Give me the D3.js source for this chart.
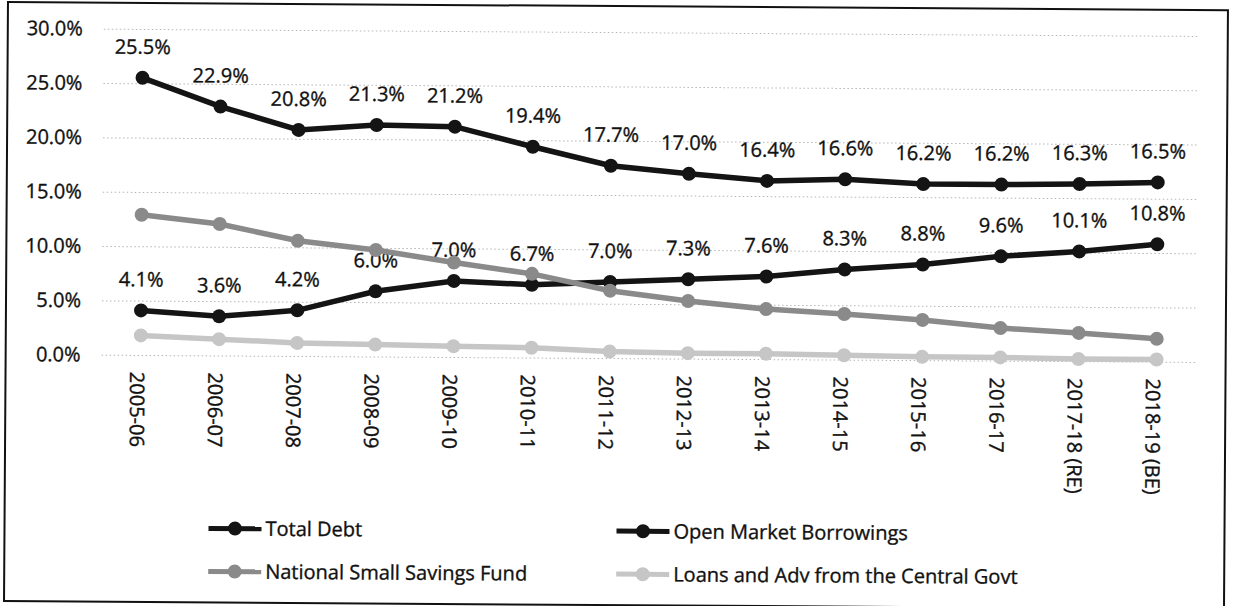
<!DOCTYPE html>
<html lang="en">
<head>
    <meta charset="UTF-8">
    <title>Debt composition</title>
    <script src="https://d3js.org/d3.v7.min.js"></script>
    <style>
        body { margin: 0; background: #fff; }
        text { font-family: "Open Sans", "Noto Sans", sans-serif; font-size: 20px; fill: #111; stroke: #111; stroke-width: 0.35px; }
        .grid line { stroke: #b5b5b5; stroke-width: 1; stroke-dasharray: 1.5,2.5; }
        .line { fill: none; stroke-width: 5.5; }
    </style>
</head>
<body>
    <svg id="chart" width="1239" height="606"></svg>

    <script>
        // data
        const categories = ["2005-06", "2006-07", "2007-08", "2008-09", "2009-10", "2010-11", "2011-12",
            "2012-13", "2013-14", "2014-15", "2015-16", "2016-17", "2017-18 (RE)", "2018-19 (BE)"];
        const totalDebt = [25.5, 22.9, 20.8, 21.3, 21.2, 19.4, 17.7, 17.0, 16.4, 16.6, 16.2, 16.2, 16.3, 16.5];
        const openMarket = [4.1, 3.6, 4.2, 6.0, 7.0, 6.7, 7.0, 7.3, 7.6, 8.3, 8.8, 9.6, 10.1, 10.8];
        const smallSavings = [12.9, 12.1, 10.6, 9.8, 8.7, 7.7, 6.2, 5.3, 4.6, 4.2, 3.7, 3.0, 2.6, 2.1];
        const loansAdv = [1.8, 1.5, 1.2, 1.1, 1.0, 0.9, 0.6, 0.5, 0.5, 0.4, 0.3, 0.3, 0.2, 0.2];
        const yTicks = [0, 5, 10, 15, 20, 25, 30];

        const seriesNames = ["Total Debt", "Open Market Borrowings", "National Small Savings Fund", "Loans and Adv from the Central Govt"];
        const seriesValues = [totalDebt, openMarket, smallSavings, loansAdv];
        const seriesColors = ["#141414", "#141414", "#8a8a8a", "#c6c6c6"];
        const labelled = [true, true, false, false];

        const svg = d3.select("#chart");
        // the scan is tilted a little clockwise
        const root = svg.append("g").attr("transform", "rotate(0.38)");

        root.append("rect")
            .attr("x", 8).attr("y", 2)
            .attr("width", 1220).attr("height", 599)
            .attr("fill", "none").attr("stroke", "#111").attr("stroke-width", 2);

        const left = 104, right = 1198;
        const x = d3.scalePoint().domain(categories).range([left, right]).padding(0.5);
        const y = d3.scaleLinear().domain([0, 30]).range([354, 28]);

        // gridlines
        root.append("g")
            .attr("class", "grid")
            .attr("transform", `translate(${left},0)`)
            .call(d3.axisLeft(y).tickValues(yTicks).tickSize(-(right - left)).tickFormat(""))
            .call(g => g.select(".domain").remove());

        // y axis labels
        root.append("g")
            .attr("transform", `translate(${left},0)`)
            .call(d3.axisLeft(y).tickValues(yTicks).tickSize(0).tickPadding(21).tickFormat(d => d.toFixed(1) + "%"))
            .call(g => g.select(".domain").remove())
            .call(g => g.selectAll("text").attr("font-size", 20).attr("font-family", null).attr("fill", "#111"));

        // x axis labels, rotated
        root.append("g")
            .attr("transform", `translate(0,${y(0)})`)
            .call(d3.axisBottom(x).tickSize(0))
            .call(g => g.select(".domain").remove())
            .call(g => g.selectAll("text")
                .attr("font-size", 20).attr("font-family", null).attr("fill", "#111")
                .attr("transform", "rotate(90)")
                .attr("text-anchor", "start")
                .attr("x", 17).attr("y", 4).attr("dy", "0.35em"));

        // data labels (drawn under the lines)
        seriesValues.forEach((vals, i) => {
            if (!labelled[i]) return;
            root.append("g").selectAll("text")
                .data(vals)
                .enter().append("text")
                .attr("x", (d, j) => x(categories[j]))
                .attr("y", d => y(d) - 24)
                .attr("text-anchor", "middle")
                .text(d => d.toFixed(1) + "%");
        });

        const line = d3.line()
            .x((d, j) => x(categories[j]))
            .y(d => y(d));

        seriesValues.forEach((vals, i) => {
            root.append("path")
                .datum(vals)
                .attr("class", "line")
                .attr("stroke", seriesColors[i])
                .attr("d", line);
            root.append("g").selectAll("circle")
                .data(vals)
                .enter().append("circle")
                .attr("cx", (d, j) => x(categories[j]))
                .attr("cy", d => y(d))
                .attr("r", 7)
                .attr("fill", seriesColors[i]);
        });

        // legend
        const legendPos = [[212, 527], [620, 527], [212, 570], [620, 570]];
        seriesNames.forEach((name, i) => {
            const g = root.append("g").attr("transform", `translate(${legendPos[i][0]},${legendPos[i][1]})`);
            g.append("line")
                .attr("x1", 0).attr("x2", 53)
                .attr("stroke", seriesColors[i]).attr("stroke-width", 5);
            g.append("circle")
                .attr("cx", 26.5).attr("r", 7)
                .attr("fill", seriesColors[i]);
            g.append("text")
                .attr("x", 57).attr("dy", "0.35em")
                .text(name);
        });
    </script>
</body>
</html>
